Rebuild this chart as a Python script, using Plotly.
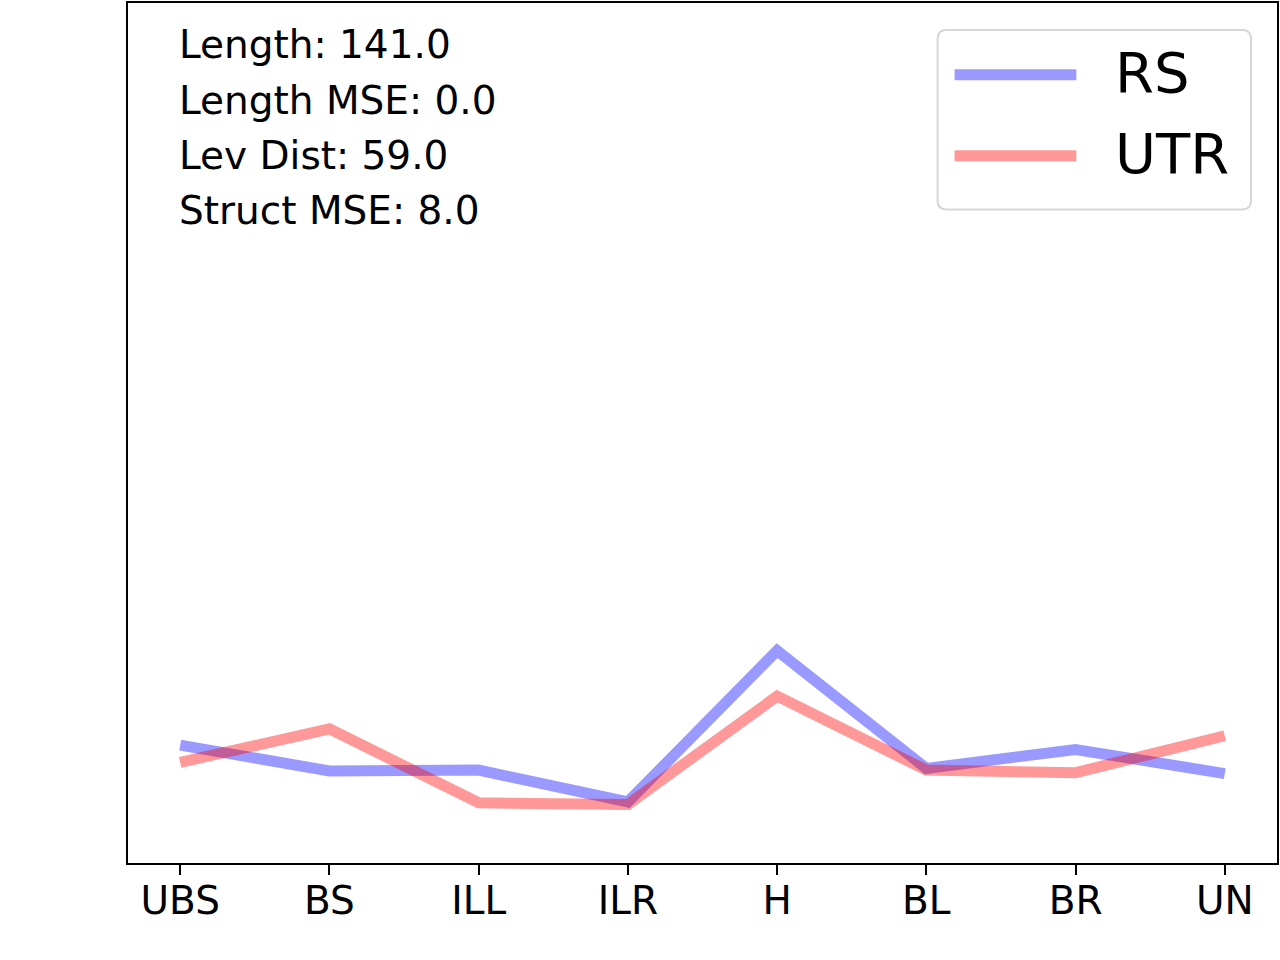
import plotly.graph_objects as go

categories = ["UBS", "BS", "ILL", "ILR", "H", "BL", "BR", "UN"]
rs_values = [13.7, 10.7, 10.8, 7.1, 24.7, 11.0, 13.2, 10.4]
utr_values = [11.7, 15.6, 7.0, 6.8, 19.4, 10.8, 10.5, 14.8]
series_names = ["RS", "UTR"]
series_colors = ["rgba(0,0,255,0.4)", "rgba(255,0,0,0.4)"]
stats_lines = ["Length: 141.0", "Length MSE: 0.0", "Lev Dist: 59.0", "Struct MSE: 8.0"]

W, H = 1280, 960
ML, MR, MT, MB = 128, 1, 1, 97
PW = W - ML - MR
PH = H - MT - MB
FONT = "DejaVu Sans"


def px(x):
    # pixel column -> paper x
    return (x - ML) / PW


def py(y):
    # pixel row -> paper y
    return (H - MB - y) / PH


fig = go.Figure()
for name, vals, col in zip(series_names, [rs_values, utr_values], series_colors):
    fig.add_trace(go.Scatter(x=categories, y=vals, mode="lines", name=name,
                             line=dict(color=col, width=11),
                             showlegend=False))

# stats text in the upper left
for i, txt in enumerate(stats_lines):
    fig.add_annotation(text=txt, xref="paper", yref="paper",
                       x=px(178), y=py(43 + 55.3 * i),
                       xanchor="left", yanchor="middle", showarrow=False,
                       borderpad=0, font=dict(family=FONT, size=39, color="black"))

# matplotlib-style legend box
x0, x1, y0, y1, r = 939, 1253, 28, 208, 9
path = (f"M {px(x0 + r)} {py(y0)} L {px(x1 - r)} {py(y0)} "
        f"Q {px(x1)} {py(y0)} {px(x1)} {py(y0 + r)} "
        f"L {px(x1)} {py(y1 - r)} Q {px(x1)} {py(y1)} {px(x1 - r)} {py(y1)} "
        f"L {px(x0 + r)} {py(y1)} Q {px(x0)} {py(y1)} {px(x0)} {py(y1 - r)} "
        f"L {px(x0)} {py(y0 + r)} Q {px(x0)} {py(y0)} {px(x0 + r)} {py(y0)} Z")
fig.add_shape(type="path", path=path, xref="paper", yref="paper",
              fillcolor="rgba(255,255,255,0.8)",
              line=dict(color="rgba(204,204,204,0.8)", width=2))
for name, col, yy in zip(series_names, series_colors, [73, 154]):
    fig.add_shape(type="line", xref="paper", yref="paper",
                  x0=px(956), x1=px(1078), y0=py(yy), y1=py(yy),
                  line=dict(color=col, width=11))
    fig.add_annotation(text=name, xref="paper", yref="paper",
                       x=px(1116), y=py(yy - 2), xanchor="left", yanchor="middle",
                       showarrow=False, borderpad=0,
                       font=dict(family=FONT, size=56, color="black"))

fig.update_layout(
    width=W, height=H,
    margin=dict(l=ML, r=MR, t=MT, b=MB),
    paper_bgcolor="white", plot_bgcolor="white",
    font=dict(family=FONT, color="black"),
    showlegend=False,
)
fig.update_xaxes(type="category", range=[-0.35, 7.35], showgrid=False,
                 zeroline=False, showline=True, mirror=True,
                 linecolor="black", linewidth=2,
                 ticks="outside", ticklen=10, tickwidth=2, tickcolor="black",
                 ticklabelstandoff=-8,
                 tickfont=dict(family=FONT, size=39, color="black"))
fig.update_yaxes(range=[0, 100], showgrid=False, zeroline=False,
                 showline=True, mirror=True, linecolor="black", linewidth=2,
                 showticklabels=False, ticks="")

fig.write_html("out.html", config={"displayModeBar": False},
               post_script="document.body.style.margin = '0px';")
